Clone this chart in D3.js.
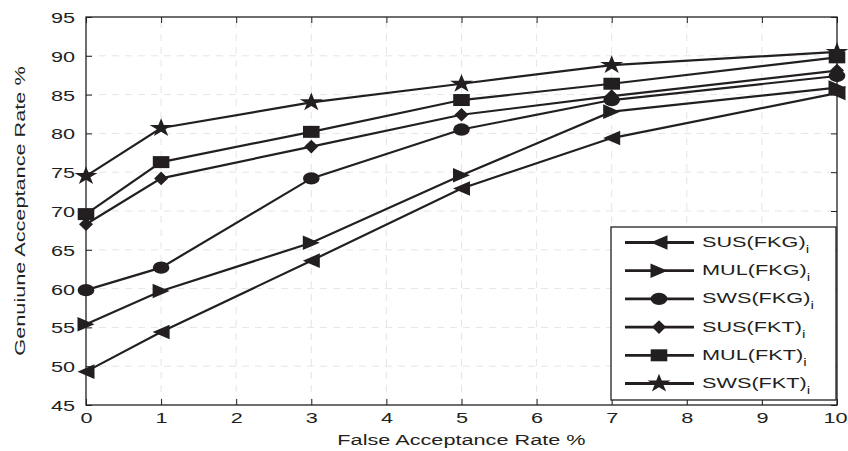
<!DOCTYPE html>
<html><head><meta charset="utf-8">
<script src="https://cdn.jsdelivr.net/npm/d3@7"></script>
<style>body{margin:0;background:#fff}svg{display:block}text{font-family:"Liberation Sans",Arial,sans-serif;fill:#231f20}</style>
</head><body><div id="c"></div>
<script>
const xValues = [0, 1, 3, 5, 7, 10];
const seriesNames = ["SUS(FKG)", "MUL(FKG)", "SWS(FKG)", "SUS(FKT)", "MUL(FKT)", "SWS(FKT)"];
const susFKG = [49.3, 54.4, 63.6, 72.9, 79.4, 85.2];
const mulFKG = [55.4, 59.7, 65.9, 74.6, 82.8, 85.9];
const swsFKG = [59.8, 62.7, 74.2, 80.5, 84.3, 87.4];
const susFKT = [68.3, 74.2, 78.3, 82.4, 84.8, 88.1];
const mulFKT = [69.6, 76.3, 80.2, 84.3, 86.4, 89.8];
const swsFKT = [74.5, 80.7, 84.0, 86.4, 88.8, 90.5];
const seriesValues = [susFKG, mulFKG, swsFKG, susFKT, mulFKT, swsFKT];
const markerTypes = ["triLeft", "triRight", "circle", "diamond", "square", "star"];
const xTicks = [0,1,2,3,4,5,6,7,8,9,10];
const yTicks = [45,50,55,60,65,70,75,80,85,90,95];

const W = 848, H = 451;
const m = {l:86, r:11, t:17, b:46};
const SX = 1.4, FS = 15.5;
const svg = d3.select("#c").append("svg").attr("width", W).attr("height", H);
const x = d3.scaleLinear().domain([0,10]).range([m.l, W - m.r]);
const y = d3.scaleLinear().domain([45,95]).range([H - m.b, m.t]);
const col = "#231f20";

// grid
const g = svg.append("g");
g.selectAll(".gx").data(xTicks.slice(1,-1)).join("line")
  .attr("x1", d=>x(d)).attr("x2", d=>x(d)).attr("y1", y(45)).attr("y2", y(95))
  .attr("stroke", "#dedede").attr("stroke-width", 0.8).attr("stroke-dasharray", "7,6");
g.selectAll(".gy").data(yTicks.slice(1,-1)).join("line")
  .attr("y1", d=>y(d)).attr("y2", d=>y(d)).attr("x1", x(0)).attr("x2", x(10))
  .attr("stroke", "#dedede").attr("stroke-width", 0.8).attr("stroke-dasharray", "7,6");

// axes
const tl = 6;
svg.append("g").attr("transform", `translate(0,${y(45)})`)
  .call(d3.axisBottom(x).tickValues(xTicks).tickSize(-tl).tickSizeOuter(0))
  .call(a=>{a.select(".domain").remove(); a.selectAll("line").attr("stroke", col);
    a.selectAll("text").attr("y", 18).attr("dy", null).attr("font-size", FS)
      .style("font-family","Liberation Sans,Arial,sans-serif").attr("fill", col)
      .attr("transform", `scale(${SX},1)`)
      .filter(d => d === 10).attr("text-anchor", "end").attr("x", (W - 1 - x(10)) / SX);});
svg.append("g").attr("transform", `translate(0,${y(95)})`)
  .call(d3.axisTop(x).tickValues(xTicks).tickSize(-tl).tickFormat("").tickSizeOuter(0))
  .call(a=>{a.select(".domain").remove(); a.selectAll("line").attr("stroke", col);});
svg.append("g").attr("transform", `translate(${x(0)},0)`)
  .call(d3.axisLeft(y).tickValues(yTicks).tickSize(-tl).tickSizeOuter(0))
  .call(a=>{a.select(".domain").remove(); a.selectAll("line").attr("stroke", col);
    a.selectAll("text").attr("x", -11/SX).attr("dy", "0.36em").attr("font-size", FS)
      .style("font-family","Liberation Sans,Arial,sans-serif").attr("fill", col)
      .attr("transform", `scale(${SX},1)`);});
svg.append("g").attr("transform", `translate(${x(10)},0)`)
  .call(d3.axisRight(y).tickValues(yTicks).tickSize(-tl).tickFormat("").tickSizeOuter(0))
  .call(a=>{a.select(".domain").remove(); a.selectAll("line").attr("stroke", col);});
svg.append("rect").attr("x", x(0)).attr("y", y(95)).attr("width", x(10)-x(0)).attr("height", y(45)-y(95))
  .attr("fill","none").attr("stroke", col).attr("stroke-width", 1.3);

// markers
function markerPath(t){
  switch(t){
    case "triLeft": return `M-8.5,0L8.5,-7.3L8.5,7.3Z`;
    case "triRight": return `M8.5,0L-8.5,-7.3L-8.5,7.3Z`;
    case "circle": return `M-8.3,0A8.3,6.2 0 1,0 8.3,0A8.3,6.2 0 1,0 -8.3,0Z`;
    case "diamond": return `M0,-6.8L7,0L0,6.8L-7,0Z`;
    case "square": return `M-8.3,-6L8.3,-6L8.3,6L-8.3,6Z`;
    case "star": return d3.symbol().type(d3.symbolStar).size(150)();
  }
}
const markerScale = t => t === "star" ? " scale(1.05,0.85)" : "";

const line = d3.line().x((d,i)=>x(xValues[i])).y(d=>y(d));
seriesValues.forEach((vals, k) => {
  svg.append("path").attr("d", line(vals)).attr("fill","none").attr("stroke", col).attr("stroke-width", 2.2);
  svg.append("g").selectAll("path").data(vals).join("path")
    .attr("transform", (d,i)=>`translate(${x(xValues[i])},${y(d)})` + markerScale(markerTypes[k]))
    .attr("d", markerPath(markerTypes[k])).attr("fill", col);
});

// labels
function stext(px, py, str, rot){
  const gg = svg.append("g").attr("transform", `translate(${px},${py})` + (rot ? ` rotate(${rot})` : "") + ` scale(${SX},1)`);
  return gg.append("text").attr("text-anchor","middle").attr("font-size", FS).text(str);
}
stext((x(0)+x(10))/2, 445, "False Acceptance Rate %");
stext(25, (y(45)+y(95))/2, "Genuiune Acceptance Rate %", -90);

// legend
const lg = svg.append("g");
const lx = 611, ly = 227, lw = 225, lh = 173;
lg.append("rect").attr("x", lx).attr("y", ly).attr("width", lw).attr("height", lh)
  .attr("fill", "#fff").attr("stroke", col).attr("stroke-width", 1.3);
seriesNames.forEach((n, k) => {
  const cy = 242.5 + k * 28.2;
  lg.append("line").attr("x1", 625).attr("x2", 694).attr("y1", cy).attr("y2", cy).attr("stroke", col).attr("stroke-width", 2.8);
  lg.append("path").attr("transform", `translate(659,${cy})` + markerScale(markerTypes[k])).attr("d", markerPath(markerTypes[k])).attr("fill", col);
  const t = lg.append("g").attr("transform", `translate(702,${cy + 4.5}) scale(${SX},1)`)
    .append("text").attr("font-size", FS).text(n);
  t.append("tspan").attr("font-size", 11).attr("dy", 6).text("i");
});
</script></body></html>
